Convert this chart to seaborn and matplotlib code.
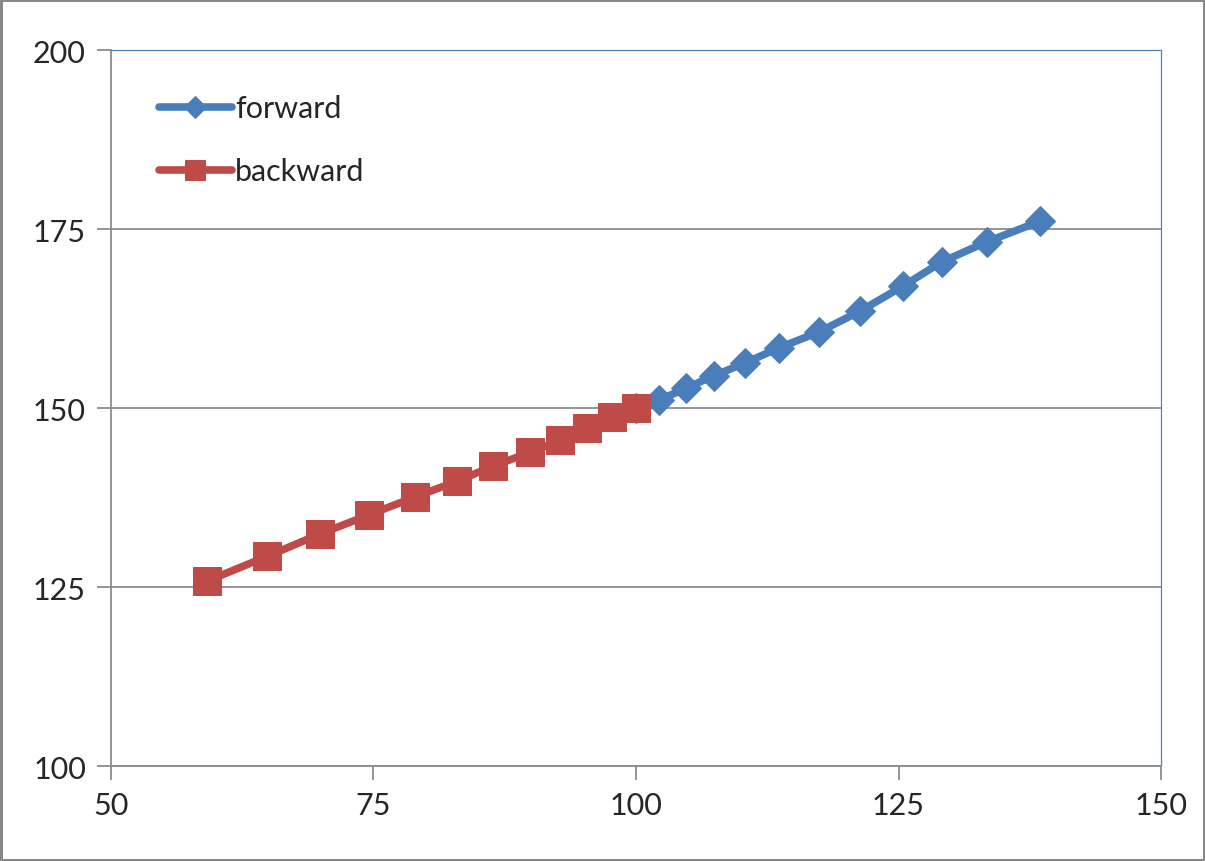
import pandas as pd
import matplotlib.pyplot as plt
import seaborn as sns

# data
forward_x = [100.0, 102.2, 104.8, 107.4, 110.4, 113.6, 117.4, 121.3, 125.4, 129.1, 133.4, 138.5]
forward_y = [150.0, 151.1, 152.8, 154.5, 156.3, 158.4, 160.6, 163.5, 167.0, 170.4, 173.2, 176.1]
backward_x = [100.0, 97.7, 95.3, 92.8, 89.9, 86.4, 83.0, 79.0, 74.6, 69.9, 64.9, 59.1]
backward_y = [150.0, 148.7, 147.2, 145.5, 143.8, 141.9, 139.8, 137.6, 135.1, 132.4, 129.3, 125.8]
x_ticks = [50, 75, 100, 125, 150]
y_ticks = [100, 125, 150, 175, 200]

df_fwd = pd.DataFrame({'x': forward_x, 'y': forward_y})
df_bwd = pd.DataFrame({'x': backward_x, 'y': backward_y})

sns.set_style('white')
plt.rcParams['font.family'] = ['Lato', 'DejaVu Sans']

fig = plt.figure(figsize=(12.05, 8.62), dpi=100)
fig.patch.set_edgecolor('#888888')
fig.patch.set_linewidth(2.5)
ax = fig.add_axes([0.0921, 0.1102, 0.8714, 0.8306])

blue = '#4A7EBB'
red = '#BE4B48'
sns.lineplot(data=df_fwd, x='x', y='y', sort=False, ax=ax, color=blue, lw=5.5,
             marker='D', markersize=15, markeredgecolor=blue, label='forward')
sns.lineplot(data=df_bwd, x='x', y='y', sort=False, ax=ax, color=red, lw=5.5,
             marker='s', markersize=20, markeredgecolor=red, label='backward')

ax.set_xlim(50, 150)
ax.set_ylim(100, 200)
ax.set_xticks(x_ticks)
ax.set_yticks(y_ticks)
ax.set_xlabel('')
ax.set_ylabel('')
ax.grid(axis='y', color='#8c8c8c', lw=1.3)
ax.set_axisbelow(True)
for side in ['left', 'bottom']:
    ax.spines[side].set_color('#8c8c8c')
    ax.spines[side].set_linewidth(1.3)
for side in ['top', 'right']:
    ax.spines[side].set_color('#4F81BD')
    ax.spines[side].set_linewidth(0.9)
ax.tick_params(axis='both', which='major', direction='out', length=10, width=1.3,
               color='#8c8c8c', labelsize=22, pad=8, left=True, bottom=True)

leg = ax.legend(loc='upper left', bbox_to_anchor=(0.025, 0.968), frameon=False,
                fontsize=22, handlelength=2.4, handletextpad=0.1, labelspacing=1.15,
                borderaxespad=0.3)
leg.legend_handles[0].set_markersize(11)
leg.legend_handles[1].set_markersize(15)

fig.savefig('out.png', dpi=100)
